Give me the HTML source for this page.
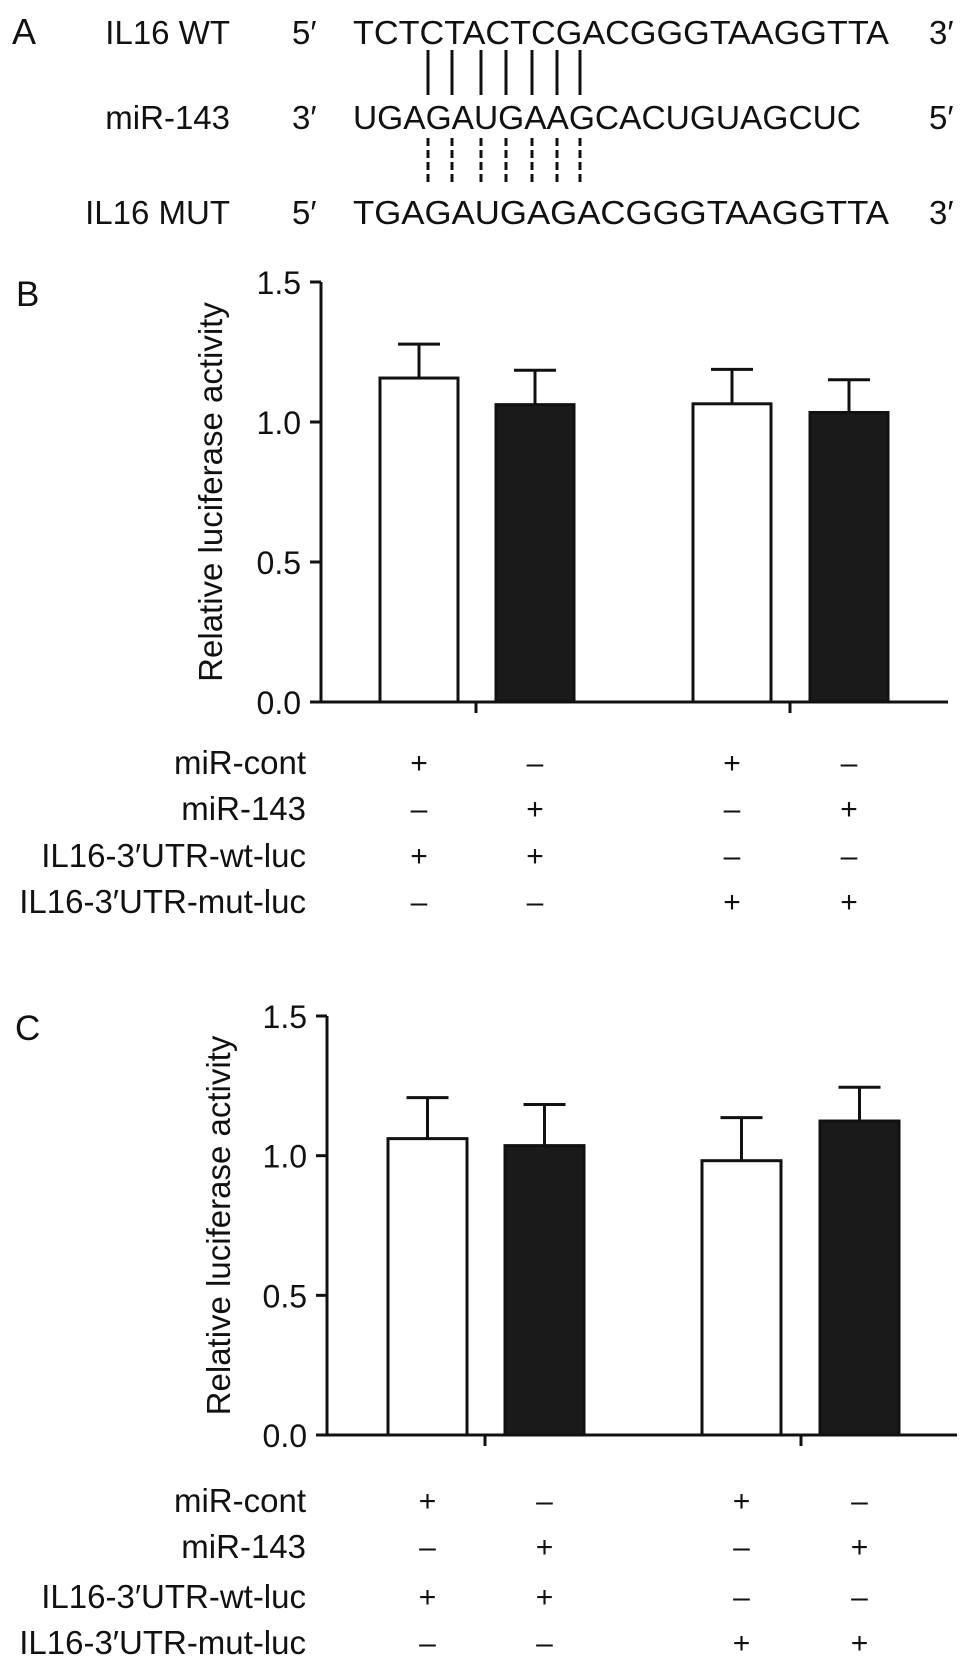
<!DOCTYPE html>
<html><head><meta charset="utf-8"><style>
html,body{margin:0;padding:0;background:#fff}
svg{display:block;font-family:"Liberation Sans",sans-serif}
</style></head><body>
<svg id="fig" width="969" height="1657" viewBox="0 0 969 1657" xmlns="http://www.w3.org/2000/svg">
<g id="panelA" fill="#111" font-size="33">
  <text x="12" y="44" font-size="36">A</text>
  <text x="230" y="44" text-anchor="end">IL16 WT</text>
  <text x="230" y="129" text-anchor="end">miR-143</text>
  <text x="230" y="224" text-anchor="end">IL16 MUT</text>
  <text x="292" y="44">5′</text>
  <text x="292" y="129">3′</text>
  <text x="292" y="224">5′</text>
  <text x="353" y="44" textLength="536" lengthAdjust="spacingAndGlyphs">TCTCTACTCGACGGGTAAGGTTA</text>
  <text x="353" y="129" textLength="508" lengthAdjust="spacingAndGlyphs">UGAGAUGAAGCACUGUAGCUC</text>
  <text x="353" y="224" textLength="536" lengthAdjust="spacingAndGlyphs">TGAGAUGAGACGGGTAAGGTTA</text>
  <text x="929" y="44">3′</text>
  <text x="929" y="129">5′</text>
  <text x="929" y="224">3′</text>
  <g id="pairs" stroke="#111" stroke-width="3"></g>
</g>
<g id="panelB"></g>
<g id="panelC"></g>
</svg>
<script>
const NS="http://www.w3.org/2000/svg";
const pairX=[428,452,481,506,532,557,580];
const conditionLabels=["miR-cont","miR-143","IL16-3′UTR-wt-luc","IL16-3′UTR-mut-luc"];
const conditionSigns=[["+","–","+","–"],["–","+","–","+"],["+","+","–","–"],["–","–","+","+"]];
const yTicks=[0,0.5,1.0,1.5];
const yTickLabels=["0.0","0.5","1.0","1.5"];
const barFill=["#fff","#1a1a1a","#fff","#1a1a1a"];
const valuesB=[1.157,1.062,1.065,1.034];
const errorsB=[1.278,1.185,1.188,1.151];
const valuesC=[1.061,1.036,0.982,1.124];
const errorsC=[1.208,1.183,1.136,1.245];

function el(tag,attrs,parent){const e=document.createElementNS(NS,tag);for(const k in attrs)e.setAttribute(k,attrs[k]);parent.appendChild(e);return e;}

const pairs=document.getElementById('pairs');
pairX.forEach(x=>{
  let l=el('line',{x1:x,x2:x,y1:50,y2:95},pairs);
  
  
  let d=el('line',{x1:x,x2:x,y1:138,y2:183,'stroke-dasharray':'8,4'},pairs);
  
  
});

function drawChart(g,cfg,values,errors){
  const y=v=>cfg.y0-(v/1.5)*(cfg.y0-cfg.y15);
  g.setAttribute('fill','#111');
  let lab=el('text',{x:cfg.labX,y:cfg.labY,'font-size':35},g);lab.textContent=cfg.letter;
  
  
  let t=el('text',{x:0,y:0,'font-size':33,'text-anchor':'middle',transform:`translate(${cfg.titleX},${(cfg.y0+cfg.y15)/2}) rotate(-90)`},g);
  t.textContent="Relative luciferase activity";
  
  
  let ya=el('line',{x1:cfg.ax,x2:cfg.ax,y1:cfg.y15,y2:cfg.y0+1.5,stroke:'#111','stroke-width':3},g);
  
  
  yTicks.forEach((v,i)=>{
    let tk=el('line',{x1:cfg.ax-11,x2:cfg.ax,y1:y(v),y2:y(v),stroke:'#111','stroke-width':3},g);
    
    
    let tl=el('text',{x:cfg.ax-20,y:y(v)+12,'font-size':32,'text-anchor':'end'},g);
    tl.textContent=yTickLabels[i];
    
    
  });
  values.forEach((v,i)=>{
    const x=cfg.barX[i],w=cfg.bw,cx=x+w/2;
    let e=el('line',{x1:cx,x2:cx,y1:y(errors[i]),y2:y(v),stroke:'#111','stroke-width':3},g);
    
    
    let c=el('line',{x1:cx-21,x2:cx+21,y1:y(errors[i]),y2:y(errors[i]),stroke:'#111','stroke-width':3},g);
    
    
    let r=el('rect',{x:x,y:y(v),width:w,height:cfg.y0-y(v),fill:barFill[i],stroke:'#111','stroke-width':3},g);
    
    
  });
  let xa=el('line',{x1:cfg.ax,x2:cfg.axEnd,y1:cfg.y0,y2:cfg.y0,stroke:'#111','stroke-width':3},g);
  
  
  cfg.groupTicks.forEach(gx=>{
    let gt=el('line',{x1:gx,x2:gx,y1:cfg.y0,y2:cfg.y0+11,stroke:'#111','stroke-width':3},g);
    
    
  });
  conditionLabels.forEach((name,r)=>{
    const ry=cfg.rows[r];
    let tl=el('text',{x:306,y:ry+12,'font-size':33,'text-anchor':'end'},g);
    tl.textContent=name;
    
    
    conditionSigns[r].forEach((s,i)=>{
      let st=el('text',{x:cfg.barX[i]+cfg.bw/2,y:ry+11,'font-size':30,'text-anchor':'middle'},g);
      st.textContent=s;
      
      
    });
  });
}

drawChart(document.getElementById('panelB'),{letter:'B',labX:16,labY:306,titleX:222,ax:321,axEnd:948,y0:702,y15:282,
  barX:[380,496,693,810],bw:78,groupTicks:[476,790],rows:[762,808,855,901]},valuesB,errorsB);
drawChart(document.getElementById('panelC'),{letter:'C',labX:15,labY:1040,titleX:230,ax:327,axEnd:957,y0:1435,y15:1016,
  barX:[388,505,702,820],bw:79,groupTicks:[485,801],rows:[1500,1546,1596,1642]},valuesC,errorsC);
</script>
</body></html>
